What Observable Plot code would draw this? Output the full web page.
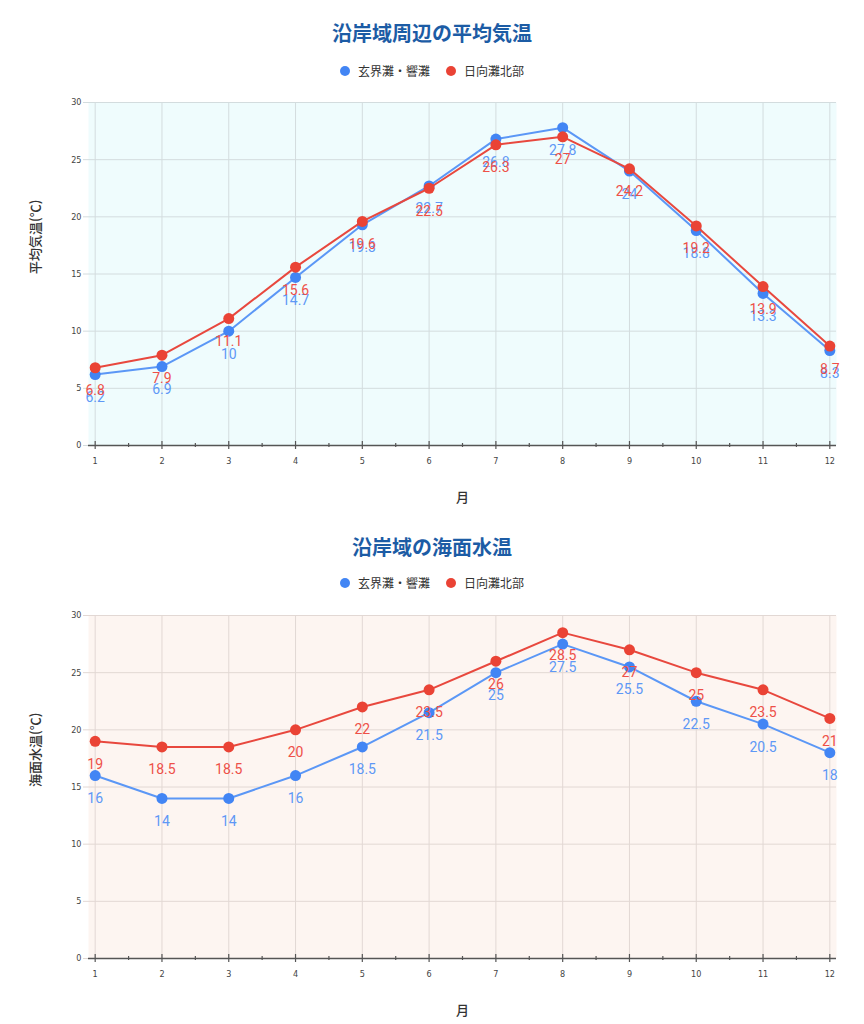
<!DOCTYPE html>
<html><head><meta charset="utf-8">
<script src="https://cdn.jsdelivr.net/npm/d3@7"></script>
<script src="https://cdn.jsdelivr.net/npm/@observablehq/plot@0.6"></script>
<style>
body{margin:0;background:#fff;width:864px;height:1024px;overflow:hidden;position:relative;font-family:"Noto Sans CJK JP",sans-serif}
.title{position:absolute;left:0;width:864px;text-align:center;font-weight:bold;font-size:20px;color:#1c5ca5;line-height:26px;height:26px}
.legend{position:absolute;left:0;width:864px;height:18px;display:flex;justify-content:center;align-items:center;font-size:12px;color:#333;line-height:18px}
.legend .item{display:flex;align-items:center;margin:0 8px}
.legend .dot{width:10px;height:10px;border-radius:50%;margin-right:8px}
.chart{position:absolute;left:0}
</style>
</head><body>
<div id="root"></div>
<script>
const months = [1,2,3,4,5,6,7,8,9,10,11,12];
const minorTicks = [1.5,2.5,3.5,4.5,5.5,6.5,7.5,8.5,9.5,10.5,11.5];
const yTicks = [0,5,10,15,20,25,30];
const seriesNames = ["玄界灘・響灘", "日向灘北部"];
const airGenkai = [6.2, 6.9, 10, 14.7, 19.3, 22.7, 26.8, 27.8, 24, 18.8, 13.3, 8.3];
const airHyuga  = [6.8, 7.9, 11.1, 15.6, 19.6, 22.5, 26.3, 27, 24.2, 19.2, 13.9, 8.7];
const seaGenkai = [16, 14, 14, 16, 18.5, 21.5, 25, 27.5, 25.5, 22.5, 20.5, 18];
const seaHyuga  = [19, 18.5, 18.5, 20, 22, 23.5, 26, 28.5, 27, 25, 23.5, 21];
const titles = ["沿岸域周辺の平均気温", "沿岸域の海面水温"];
const yLabels = ["平均気温(℃)", "海面水温(℃)"];
const xLabel = "月";

const blueDot = "#4285f4", blueLine = "#5b97f6", blueText = "#5e98f6";
const redDot = "#ea4335", redLine = "#e8483e", redText = "#ee5048";

const root = document.getElementById("root");

function addDiv(cls, top, html) {
  const d = document.createElement("div");
  d.className = cls; d.style.top = top + "px"; d.innerHTML = html;
  document.body.appendChild(d);
  return d;
}

function legendHTML() {
  return `<div class="item"><span class="dot" style="background:${blueDot}"></span>${seriesNames[0]}</div>` +
         `<div class="item"><span class="dot" style="background:${redDot}"></span>${seriesNames[1]}</div>`;
}

function makeChart({title, titleTop, legendTop, svgTop, height, marginBottom, bg, grid, yLabel, blue, red}) {
  addDiv("title", titleTop, title);
  addDiv("legend", legendTop, legendHTML());
  const rows = (vals) => months.map((m, i) => ({month: m, value: vals[i]}));
  const B = rows(blue), R = rows(red);
  const chart = Plot.plot({
    width: 864, height, marginTop: 14, marginBottom, marginLeft: 88, marginRight: 28,
    x: {domain: [0.9, 12.1]},
    y: {domain: [0, 30]},
    style: {fontFamily: '"Liberation Sans Narrow","DejaVu Sans Condensed",sans-serif', fontSize: "9px", color: "#444", background: "transparent", overflow: "visible"},
    marks: [
      Plot.frame({fill: bg, stroke: null}),
      Plot.gridY(yTicks.filter(t => t > 0), {stroke: grid, strokeOpacity: 1}),
      Plot.gridX(months, {stroke: grid, strokeOpacity: 1}),
      Plot.axisY(yTicks, {tickSize: 5, tickPadding: 2, stroke: grid, strokeOpacity: 1, label: null}),
      Plot.axisX(months, {tickSize: 0, tickPadding: 12, label: null}),
      Plot.ruleY([0], {stroke: "#555", strokeWidth: 1.3}),
      Plot.ruleX(months, {x: d => d, y1: 0, y2: 0, insetTop: -4, insetBottom: -4, stroke: "#555", strokeWidth: 1.2}),
      Plot.ruleX(minorTicks, {x: d => d, y1: 0, y2: 0, insetTop: -2, insetBottom: -2, stroke: "#555", strokeWidth: 1.2}),
      Plot.line(B, {x: "month", y: "value", stroke: blueLine, strokeWidth: 2}),
      Plot.dot(B, {x: "month", y: "value", r: 5.5, fill: blueDot}),
      Plot.line(R, {x: "month", y: "value", stroke: redLine, strokeWidth: 2}),
      Plot.dot(R, {x: "month", y: "value", r: 5.5, fill: redDot}),
      Plot.text(B, {x: "month", y: "value", text: d => String(d.value), dy: 23, lineAnchor: "middle", fill: blueText, fontSize: 14, fontFamily: "Roboto"}),
      Plot.text(R, {x: "month", y: "value", text: d => String(d.value), dy: 23, lineAnchor: "middle", fill: redText, fontSize: 14, fontFamily: "Roboto"}),
      Plot.text([xLabel], {frameAnchor: "bottom", dy: 52, lineAnchor: "middle", fontSize: 13, fill: "#333", fontFamily: '"Noto Sans CJK JP"', fontWeight: 500}),
      Plot.text([yLabel], {frameAnchor: "left", dx: -53, rotate: -90, lineAnchor: "middle", fontSize: 13, fill: "#333", fontFamily: '"Noto Sans CJK JP"', fontWeight: 500})
    ]
  });
  chart.classList.add("chart");
  chart.style.top = svgTop + "px";
  chart.style.position = "absolute";
  document.body.appendChild(chart);
}

makeChart({title: titles[0], titleTop: 20, legendTop: 62, svgTop: 88, height: 437, marginBottom: 80,
  bg: "#effcfd", grid: "#d3dcde", yLabel: yLabels[0], blue: airGenkai, red: airHyuga});
makeChart({title: titles[1], titleTop: 534, legendTop: 574, svgTop: 601, height: 423, marginBottom: 66,
  bg: "#fdf5f1", grid: "#e2d8d4", yLabel: yLabels[1], blue: seaGenkai, red: seaHyuga});
</script>
</body></html>
